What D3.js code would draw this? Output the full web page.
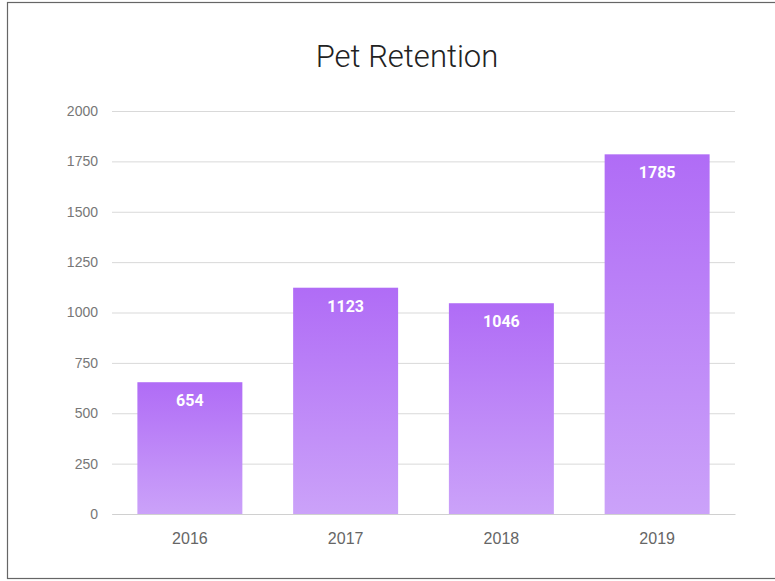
<!DOCTYPE html>
<html>
<head>
<meta charset="utf-8">
<script src="https://cdn.jsdelivr.net/npm/d3@7"></script>
<style>
  body { margin: 0; background: #fff; }
  svg { display: block; font-family: Roboto, 'Noto Sans', sans-serif; }
</style>
</head>
<body>
<div id="chart"></div>
<script>
var years = ['2016', '2017', '2018', '2019'];
var retained = [654, 1123, 1046, 1785];
var yTicks = [0, 250, 500, 750, 1000, 1250, 1500, 1750, 2000];

var width = 775, height = 581;
var margin = { top: 111, right: 40, bottom: 67, left: 112 };
var innerW = width - margin.left - margin.right;
var innerH = height - margin.top - margin.bottom;

var svg = d3.select('#chart').append('svg')
    .attr('width', width)
    .attr('height', height);

// frame
svg.append('rect')
    .attr('x', 7.5).attr('y', 2.5)
    .attr('width', 780).attr('height', 576)
    .attr('fill', 'none')
    .attr('stroke', '#666')
    .attr('stroke-width', 1.2);

var grad = svg.append('defs').append('linearGradient')
    .attr('id', 'barGrad')
    .attr('x1', 0).attr('y1', 0).attr('x2', 0).attr('y2', 1);
grad.append('stop').attr('offset', '0%').attr('stop-color', '#b06cf6');
grad.append('stop').attr('offset', '100%').attr('stop-color', '#cba2f9');

svg.append('text')
    .attr('x', 407)
    .attr('y', 67)
    .attr('text-anchor', 'middle')
    .style('font-size', '31px')
    .style('font-weight', 300)
    .style('fill', '#222')
    .text('Pet Retention');

var x = d3.scaleBand().domain(years).range([0, innerW]).paddingInner(0.326).paddingOuter(0.163);
var y = d3.scaleLinear().domain([0, 2000]).range([innerH, 0]);

var g = svg.append('g').attr('transform', `translate(${margin.left},${margin.top})`);

var yAxis = d3.axisLeft(y).tickValues(yTicks).tickFormat(d3.format('d')).tickSize(-innerW).tickPadding(14);
g.append('g')
    .attr('class', 'y-axis')
    .call(yAxis)
    .call(s => s.select('.domain').remove())
    .call(s => s.selectAll('line').attr('stroke', '#d9d9d9').attr('stroke-width', 1))
    .call(s => s.selectAll('text').style('font-size', '14px').style('fill', '#777'));

var xAxis = d3.axisBottom(x).tickSize(0).tickPadding(19);
g.append('g')
    .attr('class', 'x-axis')
    .attr('transform', `translate(0,${innerH})`)
    .call(xAxis)
    .call(s => s.select('.domain').attr('stroke', '#d0d0d0'))
    .call(s => s.selectAll('text').style('font-size', '16px').style('fill', '#666'));

var data = years.map((d, i) => ({ year: d, value: retained[i] }));

g.selectAll('.bar')
    .data(data)
    .enter().append('rect')
    .attr('class', 'bar')
    .attr('x', d => x(d.year))
    .attr('y', d => y(d.value))
    .attr('width', x.bandwidth())
    .attr('height', d => innerH - y(d.value))
    .attr('fill', 'url(#barGrad)');

g.selectAll('.val')
    .data(data)
    .enter().append('text')
    .attr('class', 'val')
    .attr('x', d => x(d.year) + x.bandwidth() / 2)
    .attr('y', d => y(d.value) + 24)
    .attr('text-anchor', 'middle')
    .style('font-size', '16px')
    .style('font-weight', 700)
    .style('fill', '#fff')
    .text(d => d.value);
</script>
</body>
</html>
